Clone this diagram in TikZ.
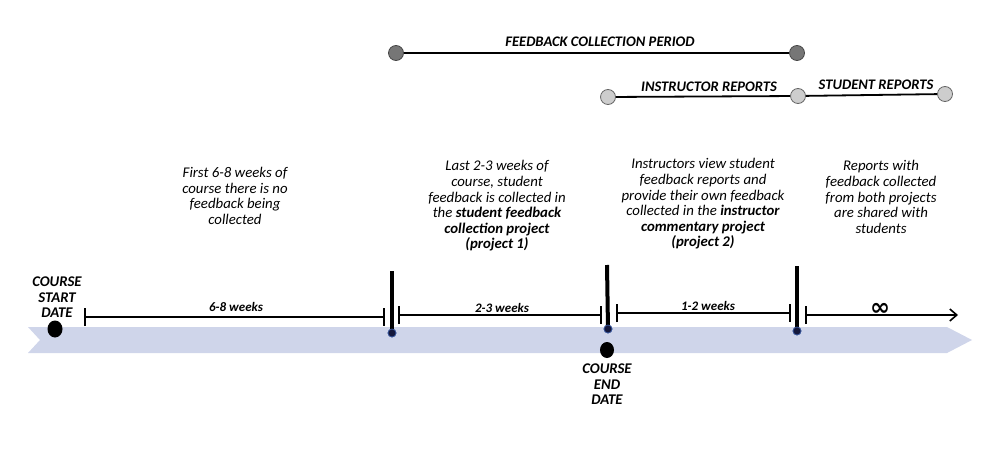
\documentclass[tikz,border=0pt]{standalone}
\usepackage{fontspec}
\setmainfont{Carlito}
\newfontfamily\symbolfont{DejaVu Sans}
\usepackage{tikz}
\usetikzlibrary{
    arrows.meta,
    positioning,
    shapes.geometric
}

\begin{document}
\begin{tikzpicture}[
    x=1pt, y=-1pt,
    font=\fontsize{14.8}{15.6}\selectfont\itshape,
    note/.style={
    	align=center, inner sep=0pt
    }, caps/.style={
    	font=\fontsize{14.8}{15.5}\selectfont\bfseries\itshape,
    	align=center, inner sep=0pt
    }, period/.style={
    	font=\fontsize{14.6}{15}\selectfont\bfseries\itshape,
    	anchor=base, inner sep=0pt
    }, weeks/.style={
    	font=\fontsize{13}{14}\selectfont\bfseries\itshape,
    	anchor=base, inner sep=0pt
    }, span/.style={
    	{Bar[width=18pt]}-{Bar[width=18pt]},
    	line width=1.6pt
    }, marker/.style={
    	line width=4pt
    }, tipdot/.style={
    	circle, fill=my-navy, draw=my-edge, line width=0.7pt,
    	inner sep=0pt, minimum size=8pt
    }, bigdot/.style={
    	ellipse, fill=black, inner sep=0pt,
    	minimum width=15pt, minimum height=17pt
    }, darkend/.style={
    	circle, fill=my-dark, draw=my-dark!60!black, line width=0.8pt,
    	inner sep=0pt, minimum size=15pt
    }, lightend/.style={
    	circle, fill=my-light, draw=my-light!50!black, line width=0.8pt,
    	inner sep=0pt, minimum size=15pt
    }, pline/.style={
    	line width=1.8pt
    }]
    \definecolor{my-band}{RGB}{207, 213, 234}
    \definecolor{my-navy}{RGB}{20, 24, 60}
    \definecolor{my-edge}{RGB}{60, 90, 160}
    \definecolor{my-dark}{RGB}{118, 118, 118}
    \definecolor{my-light}{RGB}{205, 205, 205}

    \useasboundingbox (0,0) rectangle (992,460);

    %%% BAND
    \fill[my-band] (28,327) -- (947,327) -- (972,340) -- (947,353) -- (28,353) -- (40,340) -- cycle;

    %%% PERIODS
    \node[darkend] (fc-start) at (396,53) {};
    \node[darkend] (fc-end) at (797,53) {};
    \node[lightend] (ir-start) at (608,97) {};
    \node[lightend] (ir-end) at (798,96) {};
    \node[lightend] (sr-end) at (945,94) {};

    \draw[pline] (fc-start) -- (fc-end);
    \draw[pline] (ir-start) -- (ir-end);
    \draw[pline] (ir-end) -- (sr-end);

    \node[period] (fc-text) at (600,46) {FEEDBACK COLLECTION PERIOD};
    \node[period] (ir-text) at (709,91) {INSTRUCTOR REPORTS};
    \node[period] (sr-text) at (876,89) {STUDENT REPORTS};

    %%% NOTES
    \node[note] (note1) at (235,196) {First 6-8 weeks of\\course there is no\\feedback being\\collected};
    \node[note] (note2) at (497,206) {Last 2-3 weeks of\\course, student\\feedback is collected in\\the \textbf{student feedback}\\\textbf{collection project}\\\textbf{(project 1)}};
    \node[note] (note3) at (703,204) {Instructors view student\\feedback reports and\\provide their own feedback\\collected in the \textbf{instructor}\\\textbf{commentary project}\\\textbf{(project 2)}};
    \node[note] (note4) at (881,197) {Reports with\\feedback collected\\from both projects\\are shared with\\students};

    %%% TIMELINE
    \node[bigdot] (start) at (55,329) {};
    \node[caps, anchor=south] (start-text) at (57,318) {COURSE\\START\\DATE};

    \coordinate (s1l) at (84,317);
    \coordinate (s1r) at (385,317);
    \coordinate (s2l) at (398,315);
    \coordinate (s2r) at (602,315);
    \coordinate (s3l) at (616,313);
    \coordinate (s3r) at (791,313);
    \coordinate (s4l) at (805,315);
    \coordinate (s4r) at (958,315);

    \coordinate (m1) at (392,271);
    \coordinate (m2) at (607,265);
    \coordinate (m3) at (797,266);
    \node[tipdot] (tip1) at (392,333) {};
    \node[tipdot] (tip2) at (608,329) {};
    \node[tipdot] (tip3) at (797,331) {};

    \draw[marker] (m1) -- (tip1.center);
    \draw[marker] (m2) -- (tip2.center);
    \draw[marker] (m3) -- (tip3.center);
    \node[tipdot] at (tip1) {};
    \node[tipdot] at (tip2) {};
    \node[tipdot] at (tip3) {};

    \node[bigdot, minimum width=14pt, minimum height=16pt] (end) at (607,350) {};
    \node[caps, anchor=north] (end-text) at (607,364) {COURSE\\END\\DATE};

    \draw[span] (s1l) -- (s1r);
    \draw[span] (s2l) -- (s2r);
    \draw[span] (s3l) -- (s3r);
    \draw[{Bar[width=18pt]}-{Straight Barb[length=7pt, width=12pt]}, line width=1.6pt] (s4l) -- (s4r);

    \node[weeks] (w1) at (236,311) {6-8 weeks};
    \node[weeks] (w2) at (502,312) {2-3 weeks};
    \node[weeks] (w3) at (708,310) {1-2 weeks};
    \node[inner sep=0pt, font=\fontsize{24}{24}\selectfont\symbolfont\bfseries] (w4) at (880,309) {∞};
    %%% TIMELINE

\end{tikzpicture}
\end{document}
